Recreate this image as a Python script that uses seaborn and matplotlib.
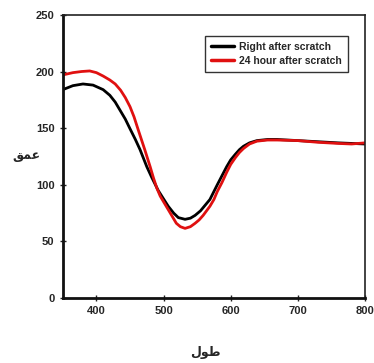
import matplotlib
matplotlib.use("Agg")
import matplotlib.pyplot as plt
import seaborn as sns
import pandas as pd

# Profile depth along the scratch, measured right after scratching and 24 h later
x_right = [350, 365, 380, 395, 410, 420, 428, 435, 443, 450, 458, 465, 475,
           482, 492, 500, 507, 515, 522, 532, 540, 547, 555, 562, 569, 580,
           587, 594, 600, 607, 613, 619, 628, 639, 655, 669, 700, 730, 760, 800]
y_right = [184, 187.5, 189, 188, 184, 179, 173, 166, 158, 149.5, 140, 131, 116,
           107, 95, 87.5, 81, 75, 71, 69.5, 70.5, 73, 77, 82, 87, 100,
           108, 116, 122, 127, 131, 134, 137, 139, 140, 140, 139, 138, 137, 136]

x_24h = [350, 365, 378, 390, 400, 410, 420, 428, 436, 443, 450, 456, 462,
         467, 472, 480, 485, 490, 495, 501, 507, 513, 519, 525, 532, 540,
         547, 553, 559, 564, 569, 575, 580, 587, 594, 600, 607, 613, 619,
         628, 639, 655, 669, 700, 730, 760, 780, 800]
y_24h = [197, 199, 200, 200.5, 199, 196, 192.5, 189, 183.5, 177, 169, 160, 149,
         140, 131, 116, 106, 97, 90, 84, 78, 72, 66, 63, 61.5, 63,
         66, 69, 73, 77, 81, 87, 94, 102, 111, 118, 124, 128.5, 132,
         136, 138.5, 139.5, 139.5, 139, 137.5, 136.5, 136, 137]

series_names = ["Right after scratch", "24 hour after scratch"]
series_colors = ["#000000", "#e01010"]
x_ticks = [400, 500, 600, 700, 800]
y_ticks = [0, 50, 100, 150, 200, 250]
x_label = "\uFEDD\uFEEE\uFEC3"   # طول (shaped, visual order)
y_label = "\uFED6\uFEE4\uFECB"   # عمق (shaped, visual order)

sns.set_style("white")
plt.rcParams["font.family"] = ["Liberation Sans Narrow", "Liberation Sans", "DejaVu Sans"]

fig = plt.figure(figsize=(3.74, 3.63), dpi=100)
ax = fig.add_axes([0.168, 0.179, 0.808, 0.780])

df_right = pd.DataFrame({"x": x_right, "y": y_right})
df_24h = pd.DataFrame({"x": x_24h, "y": y_24h})
sns.lineplot(data=df_right, x="x", y="y", ax=ax, color=series_colors[0],
             linewidth=2.0, label=series_names[0], sort=False)
sns.lineplot(data=df_24h, x="x", y="y", ax=ax, color=series_colors[1],
             linewidth=2.0, label=series_names[1], sort=False)

ax.set_xlim(350, 800)
ax.set_ylim(0, 250)
ax.set_xticks(x_ticks)
ax.set_yticks(y_ticks)
ax.set_xlabel("")
ax.set_ylabel("")

for lab in ax.get_xticklabels() + ax.get_yticklabels():
    lab.set_fontweight("bold")
    lab.set_fontsize(8)
ax.tick_params(axis="both", which="major", direction="inout", length=4,
               width=1.0, color="#222222", pad=4, left=True, bottom=True)

for side in ["left", "bottom"]:
    ax.spines[side].set_linewidth(2.0)
    ax.spines[side].set_color("#111111")
for side in ["top", "right"]:
    ax.spines[side].set_linewidth(1.2)
    ax.spines[side].set_color("#222222")

fig.text(0.072, 0.572, y_label, family=["DejaVu Sans"], fontweight="bold",
         fontsize=9, ha="center", va="center")
fig.text(0.548, 0.03, x_label, family=["DejaVu Sans"], fontweight="bold",
         fontsize=9, ha="center", va="center")

leg = ax.legend(loc="upper right", bbox_to_anchor=(0.962, 0.945), frameon=True,
                fancybox=False, framealpha=1, edgecolor="#333333",
                prop={"weight": "bold", "size": 7.5}, handlelength=2.2,
                handletextpad=0.5, borderpad=0.6, labelspacing=0.35)
leg.get_frame().set_linewidth(1.0)
for line in leg.get_lines():
    line.set_linewidth(2.5)

fig.savefig("out.png", dpi=100)
